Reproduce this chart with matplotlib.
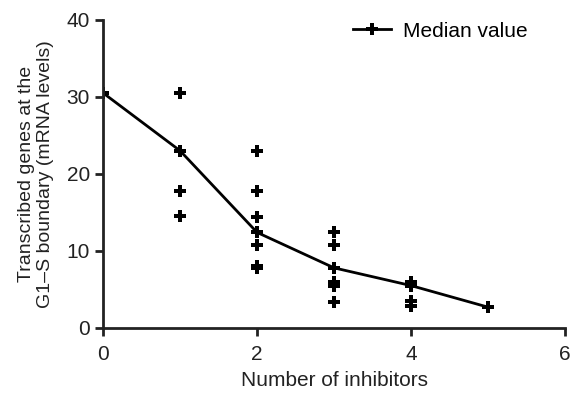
import numpy as np
import matplotlib.pyplot as plt

plt.rcParams['font.family'] = ['Liberation Sans', 'DejaVu Sans']

# Individual values per number of inhibitors
x_points = [0, 1, 1, 1, 1, 2, 2, 2, 2, 2, 2, 2, 3, 3, 3, 3, 3, 3, 4, 4, 4, 4, 5]
y_points = [30.5, 30.5, 23, 17.8, 14.5, 23, 17.8, 14.4, 12.4, 10.8, 8.0, 7.8,
            12.5, 10.8, 7.8, 5.9, 5.4, 3.4, 6.0, 5.4, 3.5, 2.8, 2.7]

# Median values
x_median = [0, 1, 2, 3, 4, 5]
y_median = [30.5, 23, 12.4, 7.8, 5.5, 2.7]

fig = plt.figure(figsize=(5.7, 3.97), dpi=100)
ax = fig.add_axes([0.181, 0.174, 0.81, 0.776])

ax.plot(x_points, y_points, linestyle='none', marker='P', color='black',
        markersize=9, markeredgewidth=0)
ax.plot(x_median, y_median, color='black', linewidth=2, marker='P',
        markersize=9, markeredgewidth=0, label='Median value')

ax.set_xlim(0, 6)
ax.set_ylim(0, 40)
ax.set_xticks([0, 2, 4, 6])
ax.set_yticks([0, 10, 20, 30, 40])

ax.spines['top'].set_visible(False)
ax.spines['right'].set_visible(False)
for s in ['left', 'bottom']:
    ax.spines[s].set_linewidth(2)
    ax.spines[s].set_color('#222222')
ax.tick_params(width=2, length=6, labelsize=15, colors='#222222')
ax.tick_params(axis='x', pad=6)

ax.set_xlabel('Number of inhibitors', fontsize=15, color='#222222', labelpad=5)
ax.set_ylabel('Transcribed genes at the\nG1\u2013S boundary (mRNA levels)',
              fontsize=14, color='#222222', labelpad=9)

ax.legend(loc='upper right', frameon=False, fontsize=15, handlelength=1.8,
          handletextpad=0.6, bbox_to_anchor=(0.96, 1.055))

fig.savefig('out.png', dpi=100)
